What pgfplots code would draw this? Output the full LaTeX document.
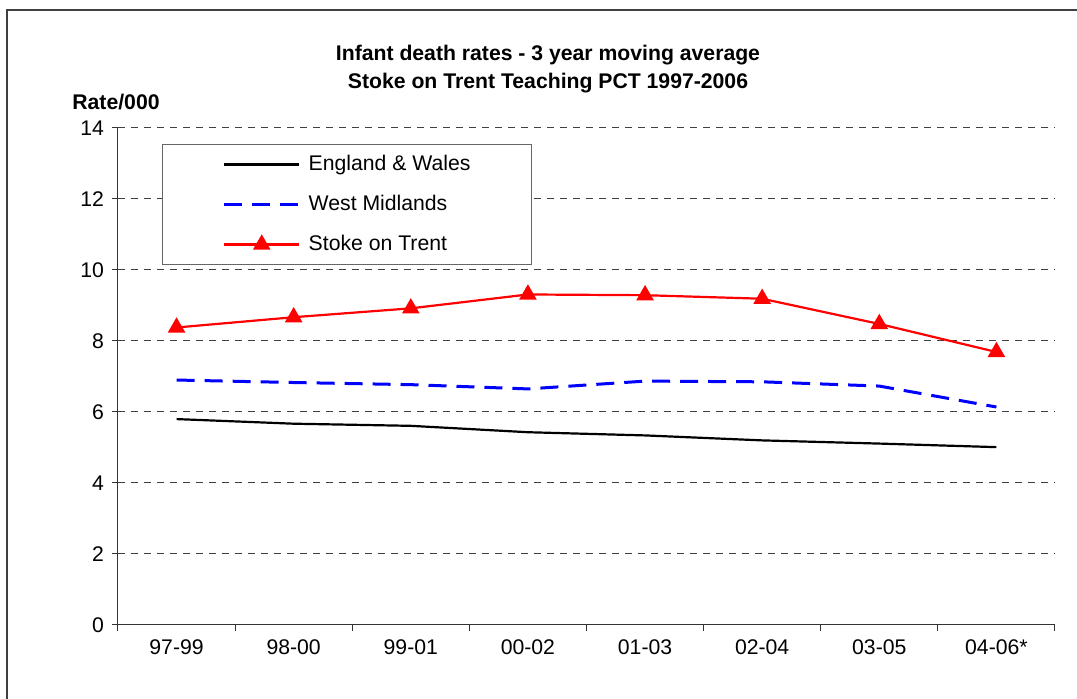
\documentclass[border=0pt]{standalone}
\usepackage{pgfplots}
\pgfplotsset{compat=1.18}
\usepackage{fontspec}
\setmainfont{Liberation Sans}
\begin{document}
\begin{tikzpicture}[font=\fontsize{10.6}{12.7}\selectfont]
\begin{axis}[
  scale only axis, width=468.5pt, height=248.5pt,
  xmin=0, xmax=8, ymin=0, ymax=14,
  axis lines*=left,
  axis line style={line width=0.5pt, black!80},
  xtick={0,...,8}, xticklabels={},
  extra x ticks={0.5,1.5,2.5,3.5,4.5,5.5,6.5,7.5},
  extra x tick labels={97-99,98-00,99-01,00-02,01-03,02-04,03-05,04-06*},
  extra x tick style={major tick length=0pt, grid=none},
  xticklabel style={yshift=-4pt},
  ytick={0,2,...,14},
  tick align=outside, major tick length=3pt,
  tick style={line width=0.5pt, black!80},
  ymajorgrids,
  major grid style={black!75, line width=0.5pt, dash pattern=on 3.5pt off 3pt},
  /pgf/number format/assume math mode=true,
  tick label style={font=\fontsize{10.6}{12.7}\selectfont},
  yticklabel style={xshift=-0.5pt},
  legend style={at={(0.047,0.968)}, anchor=north west, draw=black!60, line width=0.7pt,
    inner xsep=0pt, inner ysep=0pt, row sep=0pt, column sep=0pt,
    nodes={inner xsep=0pt, inner ysep=0pt, minimum height=20pt, anchor=west},
    font=\fontsize{10.6}{12.7}\selectfont},
  legend cell align=left,
  legend image code/.code={
    \path (-30pt,0pt) (41.5pt,0pt);
    \draw[#1, mark repeat=2, mark phase=2] plot coordinates {(0pt,0pt) (18.75pt,0pt) (37.5pt,0pt)};
  },
]
\addplot[black, line width=1.1pt, no markers] coordinates {
  (0.5,5.80) (1.5,5.67) (2.5,5.61) (3.5,5.43) (4.5,5.34) (5.5,5.20) (6.5,5.11) (7.5,5.01)};
\addlegendentry{\makebox[111.5pt][l]{England \& Wales}}
\addplot[blue, line width=1.5pt, dash pattern=on 9pt off 5pt, no markers] coordinates {
  (0.5,6.90) (1.5,6.83) (2.5,6.77) (3.5,6.65) (4.5,6.87) (5.5,6.85) (6.5,6.73) (7.5,6.14)};
\addlegendentry{\makebox[111.5pt][l]{West Midlands}}
\addplot[red, line width=1.1pt, mark=triangle*, mark size=4pt, mark options={solid, fill=red}] coordinates {
  (0.5,8.38) (1.5,8.67) (2.5,8.92) (3.5,9.31) (4.5,9.29) (5.5,9.19) (6.5,8.48) (7.5,7.69)};
\addlegendentry{\makebox[111.5pt][l]{Stoke on Trent}}
\end{axis}
\node[align=center, font=\fontsize{10.6}{14.2}\selectfont\bfseries] at (215pt,278pt)
  {Infant death rates - 3 year moving average\\Stoke on Trent Teaching PCT 1997-2006};
\node[anchor=west, font=\fontsize{10.6}{12.7}\selectfont\bfseries, inner sep=0pt] at (-23pt,261.5pt) {Rate/000};
\draw[black!75, line width=1pt] (-55.5pt,-60pt) rectangle (500pt,307.5pt);
\pgfresetboundingbox
\useasboundingbox (-59pt,-37pt) rectangle (479.5pt,312.5pt);
\end{tikzpicture}
\end{document}
